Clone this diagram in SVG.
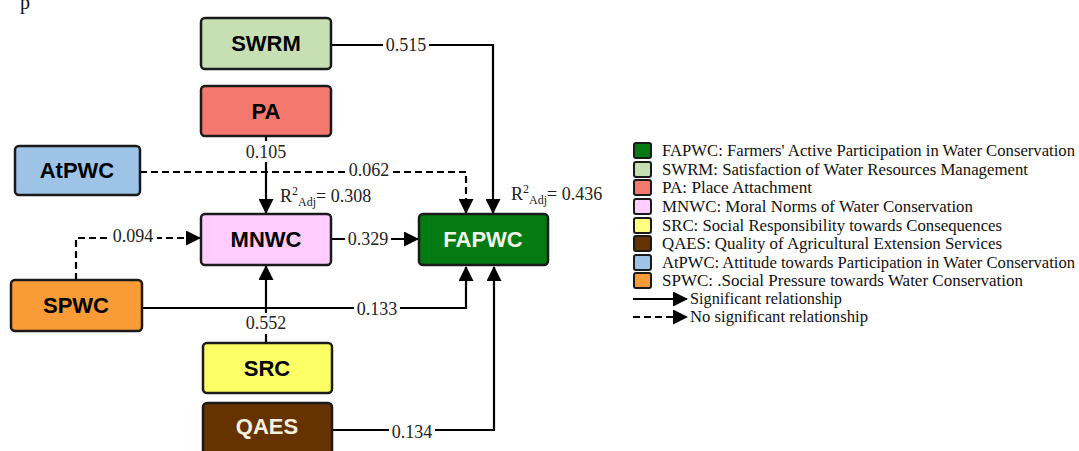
<svg xmlns="http://www.w3.org/2000/svg" width="1079" height="451" viewBox="0 0 1079 451">
<style>
.box{stroke:#1a1a1a;stroke-width:2.5}
.bt{font-family:"Liberation Sans",Arial,sans-serif;font-weight:bold;font-size:22px;text-anchor:middle}
.ln{fill:none;stroke:#000;stroke-width:2.2}
.dash{stroke-dasharray:7 4}
.lb{font-family:"Liberation Serif","Times New Roman",serif;font-size:18px;fill:#222;text-anchor:middle}
.lg{font-family:"Liberation Serif","Times New Roman",serif;font-size:16.5px;fill:#111}
.sq{stroke:#1a1a1a;stroke-width:2}
.bg{fill:#fff}
</style>
<defs>
<marker id="ah" markerUnits="userSpaceOnUse" markerWidth="15" markerHeight="15" viewBox="0 0 15 15" refX="14" refY="7.5" orient="auto">
<path d="M0,0 L15,7.5 L0,15 Z" fill="#000"/>
</marker>
</defs>
<rect width="1079" height="451" fill="#fff"/>
<text x="20" y="9" font-family="Liberation Serif,serif" font-size="20" fill="#111">p</text>

<g id="connectors">
<path class="ln" d="M331,45 H493 V213" marker-end="url(#ah)"/>
<rect class="bg" x="383" y="34" width="46" height="22"/>
<text class="lb" x="406" y="51">0.515</text>

<path class="ln dash" d="M140,172 H466 V213" marker-end="url(#ah)"/>
<rect class="bg" x="346" y="160" width="46" height="20"/>
<text class="lb" x="369" y="176">0.062</text>

<path class="ln" d="M266,136 V213" marker-end="url(#ah)"/>
<rect class="bg" x="243" y="141" width="46" height="21"/>
<text class="lb" x="266" y="158">0.105</text>

<path class="ln" d="M331,239 H418" marker-end="url(#ah)"/>
<rect class="bg" x="345" y="228" width="46" height="21"/>
<text class="lb" x="368" y="245">0.329</text>

<path class="ln dash" d="M76,280 V238 H200" marker-end="url(#ah)"/>
<rect class="bg" x="109" y="226" width="48" height="20"/>
<text class="lb" x="133" y="242">0.094</text>

<path class="ln" d="M142,308 H466 V267" marker-end="url(#ah)"/>
<rect class="bg" x="354" y="299" width="46" height="20"/>
<text class="lb" x="377" y="315">0.133</text>

<path class="ln" d="M266,343 V266" marker-end="url(#ah)"/>
<rect class="bg" x="243" y="313" width="46" height="21"/>
<text class="lb" x="266" y="329">0.552</text>

<path class="ln" d="M332,430 H494 V267" marker-end="url(#ah)"/>
<rect class="bg" x="389" y="422" width="46" height="20"/>
<text class="lb" x="412" y="438">0.134</text>

<text class="lb" x="280" y="202" style="text-anchor:start">R<tspan font-size="12" dy="-7">2</tspan><tspan font-size="12" dy="11">Adj</tspan><tspan dy="-4">= 0.308</tspan></text>
<text class="lb" x="511" y="200" style="text-anchor:start">R<tspan font-size="12" dy="-7">2</tspan><tspan font-size="12" dy="11">Adj</tspan><tspan dy="-4">= 0.436</tspan></text>
</g>

<g id="SWRM"><rect class="box" x="201" y="18" width="130" height="51" rx="4" fill="#c6e0b4"/><text class="bt" x="266" y="51">SWRM</text></g>
<g id="PA"><rect class="box" x="201" y="86" width="130" height="50" rx="4" fill="#f4786d"/><text class="bt" x="266" y="119">PA</text></g>
<g id="AtPWC"><rect class="box" x="15" y="146" width="125" height="49" rx="4" fill="#9dc3e6"/><text class="bt" x="77" y="178">AtPWC</text></g>
<g id="MNWC"><rect class="box" x="201" y="214" width="130" height="51" rx="4" fill="#ffccff"/><text class="bt" x="266" y="247">MNWC</text></g>
<g id="FAPWC"><rect class="box" x="419" y="214" width="129" height="51" rx="4" fill="#037a12"/><text class="bt" x="483" y="247" fill="#f2f5ea">FAPWC</text></g>
<g id="SPWC"><rect class="box" x="11" y="280" width="131" height="51" rx="4" fill="#f99b36"/><text class="bt" x="76" y="313">SPWC</text></g>
<g id="SRC"><rect class="box" x="203" y="343" width="129" height="50" rx="4" fill="#ffff66"/><text class="bt" x="267" y="376">SRC</text></g>
<g id="QAES"><rect class="box" x="203" y="403" width="129" height="60" rx="4" fill="#663300"/><text class="bt" x="267" y="434" fill="#f5f0e0">QAES</text></g>

<g id="legend">
<rect class="sq" x="634" y="143" width="17" height="15" rx="2" fill="#037a12"/>
<text class="lg" x="662" y="156" textLength="413" lengthAdjust="spacingAndGlyphs">FAPWC: Farmers' Active Participation in Water Conservation</text>
<rect class="sq" x="634" y="162" width="17" height="15" rx="2" fill="#c6e0b4"/>
<text class="lg" x="662" y="175" textLength="366" lengthAdjust="spacingAndGlyphs">SWRM: Satisfaction of Water Resources Management</text>
<rect class="sq" x="634" y="180" width="17" height="15" rx="2" fill="#f4786d"/>
<text class="lg" x="662" y="193" textLength="150" lengthAdjust="spacingAndGlyphs">PA: Place Attachment</text>
<rect class="sq" x="634" y="199" width="17" height="15" rx="2" fill="#ffccff"/>
<text class="lg" x="662" y="212" textLength="311" lengthAdjust="spacingAndGlyphs">MNWC: Moral Norms of Water Conservation</text>
<rect class="sq" x="634" y="218" width="17" height="15" rx="2" fill="#ffff80"/>
<text class="lg" x="662" y="231" textLength="340" lengthAdjust="spacingAndGlyphs">SRC: Social Responsibility towards Consequences</text>
<rect class="sq" x="634" y="236" width="17" height="15" rx="2" fill="#663300"/>
<text class="lg" x="662" y="249" textLength="340" lengthAdjust="spacingAndGlyphs">QAES: Quality of Agricultural Extension Services</text>
<rect class="sq" x="634" y="255" width="17" height="15" rx="2" fill="#9dc3e6"/>
<text class="lg" x="662" y="268" textLength="413" lengthAdjust="spacingAndGlyphs">AtPWC: Attitude towards Participation in Water Conservation</text>
<rect class="sq" x="634" y="273" width="17" height="15" rx="2" fill="#f99b36"/>
<text class="lg" x="662" y="286" textLength="361" lengthAdjust="spacingAndGlyphs">SPWC: .Social Pressure towards Water Conservation</text>
<path class="ln" d="M633,299 H687" marker-end="url(#ah)"/>
<text class="lg" x="690" y="304" textLength="152" lengthAdjust="spacingAndGlyphs">Significant relationship</text>
<path class="ln dash" d="M633,317 H687" marker-end="url(#ah)"/>
<text class="lg" x="690" y="322" textLength="178" lengthAdjust="spacingAndGlyphs">No significant relationship</text>
</g>
</svg>
